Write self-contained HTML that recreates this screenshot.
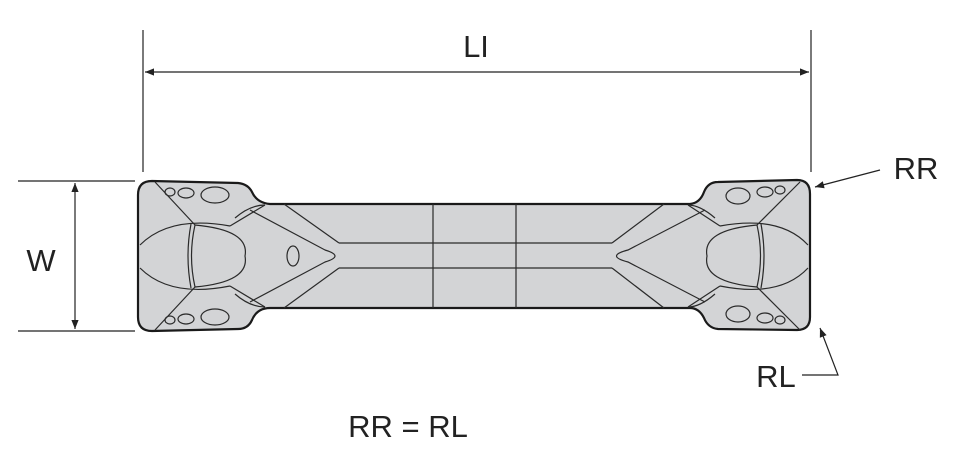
<!DOCTYPE html>
<html><head><style>html,body{margin:0;padding:0;background:#fff;}svg{display:block;}</style></head>
<body>
<svg width="958" height="449" viewBox="0 0 958 449" xmlns="http://www.w3.org/2000/svg" font-family="Liberation Sans, sans-serif">
<defs>
<marker id="ar" viewBox="0 0 10 10" refX="10" refY="5" markerWidth="20" markerHeight="9" markerUnits="userSpaceOnUse" orient="auto-start-reverse"><path d="M0,1 L10,5 L0,9 z" fill="#222"/></marker>
</defs>
<g stroke="#222" stroke-width="1.2" fill="none">
<line x1="143" y1="30" x2="143" y2="172"/>
<line x1="811" y1="30" x2="811" y2="172"/>
<line x1="145" y1="72" x2="809" y2="72" marker-start="url(#ar)" marker-end="url(#ar)"/>
<line x1="18" y1="181" x2="135" y2="181"/>
<line x1="18" y1="331" x2="135" y2="331"/>
<line x1="75" y1="183" x2="75" y2="329" marker-start="url(#ar)" marker-end="url(#ar)"/>
<line x1="880" y1="170" x2="815" y2="187" marker-end="url(#ar)"/>
<polyline points="802,375 838,375 820,328" marker-end="url(#ar)"/>
</g>
<path d="M152,181 L238,183 Q248,184 252,192 Q257,203 270,204 L690,204 Q700,203 704,192 Q708,182 718,182 L797,180 Q810,180 810,194 L810,317 Q810,330 797,330 L718,329 Q708,328 704,318 Q699,308 690,308 L270,308 Q257,308 252,320 Q248,329 238,329 L152,331 Q138,331 138,317 L138,195 Q138,181 152,181 Z" fill="#d3d4d6" stroke="#1a1a1a" stroke-width="2.2"/>
<g stroke="#2a2a2a" stroke-width="1.2" fill="none">
<line x1="433" y1="204" x2="433" y2="308"/>
<line x1="516" y1="204" x2="516" y2="308"/>
<line x1="339" y1="243" x2="612" y2="243"/>
<line x1="339" y1="268" x2="612" y2="268"/>
<path d="M284,204 L339,243"/><path d="M284,308 L339,268"/>
<path d="M664,204 L612,243"/><path d="M664,308 L612,268"/>
<path d="M250,210 L325,250 Q345,256 325,262 L250,302"/>
<path d="M705,210 L628,250 Q605,256 628,262 L705,302"/>
<ellipse cx="293" cy="256" rx="6" ry="10"/>
<path d="M140,245 Q170,215 230,226"/><path d="M140,268 Q170,298 230,286"/>
<path d="M195,225 Q250,230 245,256 Q250,282 195,287 Q188,256 195,225 Z"/>
<path d="M191,224 Q185,256 191,288"/>
<path d="M155,182 L195,225"/><path d="M155,330 L195,287"/>
<path d="M230,226 L265,205"/><path d="M230,286 L265,307"/>
<path d="M235,218 Q250,205 265,205"/><path d="M235,294 Q250,307 265,307"/>
<ellipse cx="170" cy="192" rx="5" ry="4"/><ellipse cx="186" cy="193" rx="8" ry="5"/><ellipse cx="215" cy="195" rx="14" ry="8"/>
<ellipse cx="170" cy="320" rx="5" ry="4"/><ellipse cx="186" cy="319" rx="8" ry="5"/><ellipse cx="215" cy="317" rx="14" ry="8"/>
<path d="M808,245 Q780,215 720,226"/><path d="M808,268 Q780,298 720,286"/>
<path d="M757,225 Q702,230 707,256 Q702,282 757,287 Q764,256 757,225 Z"/>
<path d="M761,224 Q767,256 761,288"/>
<path d="M800,182 L757,225"/><path d="M800,330 L757,287"/>
<path d="M720,226 L688,205"/><path d="M720,286 L688,307"/>
<path d="M715,218 Q700,205 688,205"/><path d="M715,294 Q700,307 688,307"/>
<ellipse cx="780" cy="190" rx="5" ry="4"/><ellipse cx="765" cy="192" rx="8" ry="5"/><ellipse cx="738" cy="196" rx="12" ry="8"/>
<ellipse cx="780" cy="320" rx="5" ry="4"/><ellipse cx="765" cy="318" rx="8" ry="5"/><ellipse cx="738" cy="314" rx="12" ry="8"/>
</g>
<g fill="#222" font-size="31">
<text x="476" y="57" text-anchor="middle">LI</text>
<text x="41" y="271" text-anchor="middle">W</text>
<text x="916" y="179" text-anchor="middle">RR</text>
<text x="776" y="387" text-anchor="middle">RL</text>
<text x="408" y="437" text-anchor="middle">RR = RL</text>
</g>
</svg>
</body></html>
